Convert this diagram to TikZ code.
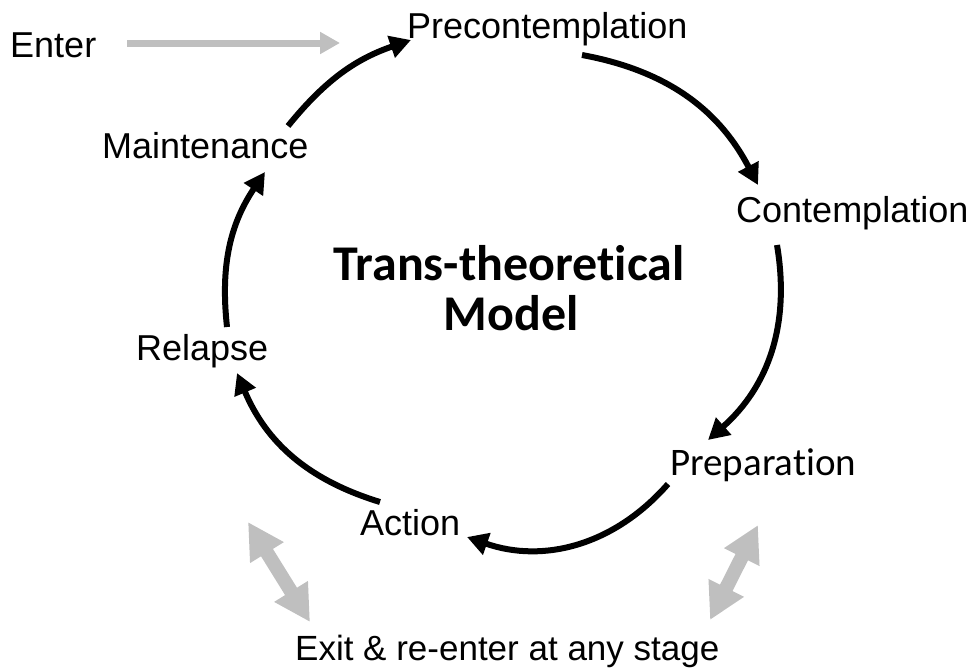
\documentclass[tikz,border=0pt]{standalone}
\usepackage{fontspec}
\usetikzlibrary{arrows.meta}
\newfontfamily\arialfont{Liberation Sans}
\newfontfamily\calfont[Ligatures=NoCommon]{Carlito}
\definecolor{flowgray}{HTML}{BFBFBF}
\begin{document}
\begin{tikzpicture}[x=1pt,y=-1pt,
  lbl/.style={inner sep=0pt, anchor=base west, font=\arialfont\fontsize{36}{40}\selectfont},
  cyc/.style={line width=6pt, -{Triangle[length=21pt,width=22pt]}},
  enterarr/.style={flowgray, line width=7pt, -{Triangle[length=20pt,width=21pt]}},
  exitarr/.style={flowgray, line width=14pt, {Triangle[length=36pt,width=37pt]}-{Triangle[length=36pt,width=37pt]}},
  title/.style={inner sep=0pt, anchor=base, font=\calfont\bfseries\fontsize{50}{52}\selectfont}]
\useasboundingbox (0,0) rectangle (977,670);

% stage labels
\node[lbl] (enter) at (10,57) {Enter};
\node[lbl] (precon) at (407,38) {Precontemplation};
\node[lbl] (maint) at (102,158) {Maintenance};
\node[lbl] (contemp) at (736,222) {Contemplation};
\node[lbl] (relapse) at (136,360) {Relapse};
\node[lbl, font=\calfont\fontsize{39}{44}\selectfont] (prep) at (670,475) {Preparation};
\node[lbl] (action) at (360,535) {Action};
\node[lbl, font=\arialfont\fontsize{35}{40}\selectfont] (exit) at (295,660) {Exit \& re-enter at any stage};

% centre title
\node[title] (title1) at (509,280) {Trans-theoretical};
\node[title] (title2) at (511,330) {Model};

% arrow end points around the cycle
\coordinate (m-out) at (288,126);
\coordinate (p-in) at (411,40);
\coordinate (p-out) at (582,55);
\coordinate (c-in) at (758,185);
\coordinate (c-out) at (777,245);
\coordinate (pr-in) at (708,440);
\coordinate (pr-out) at (668,484);
\coordinate (a-in) at (467,537);
\coordinate (a-out) at (380,502);
\coordinate (r-in) at (237,373);
\coordinate (r-out) at (227,327);
\coordinate (m-in) at (265,172);
\coordinate (enter-out) at (127,43);
\coordinate (enter-in) at (340,43);
\coordinate (xl-a) at (248,522);
\coordinate (xl-b) at (310,622);
\coordinate (xr-a) at (710,620);
\coordinate (xr-b) at (758,525);

% the cycle
\draw[cyc] (m-out) to[bend left=16] (p-in);
\draw[cyc] (p-out) to[bend left=26] (c-in);
\draw[cyc] (c-out) to[bend left=29] (pr-in);
\draw[cyc] (pr-out) to[bend left=34] (a-in);
\draw[cyc] (a-out) to[bend left=25] (r-in);
\draw[cyc] (r-out) to[bend left=20] (m-in);

% entry and exit arrows
\draw[enterarr] (enter-out) -- (enter-in);
\draw[exitarr] (xl-a) -- (xl-b);
\draw[exitarr] (xr-a) -- (xr-b);
\end{tikzpicture}
\end{document}
